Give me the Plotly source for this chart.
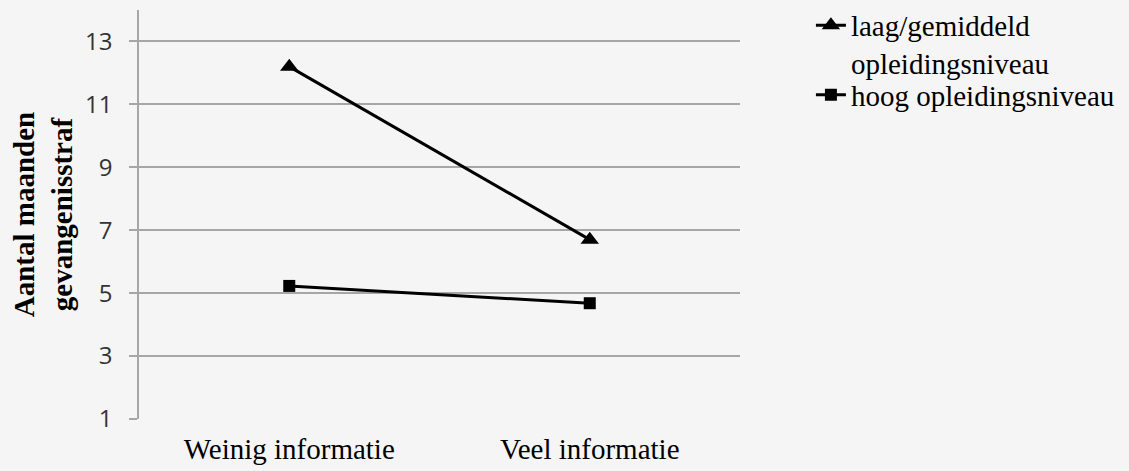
import plotly.graph_objects as go

categories = ["Weinig informatie", "Veel informatie"]
laag_gemiddeld = [12.2, 6.7]
hoog = [5.23, 4.68]
series_names = ["laag/gemiddeld<br>opleidingsniveau", "hoog opleidingsniveau"]
y_ticks = [1, 3, 5, 7, 9, 11, 13]

fig = go.Figure()
fig.add_trace(go.Scatter(
    x=categories, y=laag_gemiddeld, name=series_names[0], mode="lines+markers",
    line=dict(color="black", width=3),
    marker=dict(symbol="triangle-up", size=16, color="black"),
    legend="legend",
))
fig.add_trace(go.Scatter(
    x=categories, y=hoog, name=series_names[1], mode="lines+markers",
    line=dict(color="black", width=3),
    marker=dict(symbol="square", size=12, color="black"),
    legend="legend2",
))

grid = "#a6a6a6"
legend_font = dict(family="Liberation Serif", size=29, color="black")
fig.update_layout(
    width=1129, height=471,
    paper_bgcolor="#f5f5f5", plot_bgcolor="#f5f5f5",
    margin=dict(l=139, r=389, t=10, b=52, autoexpand=False),
    showlegend=True,
    legend=dict(
        x=1.118, y=1.025, xanchor="left", yanchor="top", valign="top",
        font=legend_font, bgcolor="rgba(0,0,0,0)", tracegroupgap=0,
    ),
    legend2=dict(
        x=1.118, y=0.855, xanchor="left", yanchor="top", valign="top",
        font=legend_font, bgcolor="rgba(0,0,0,0)", tracegroupgap=0,
    ),
    xaxis=dict(
        type="category", range=[-0.5, 1.5], automargin=False,
        showgrid=False, showline=False, zeroline=False,
        tickfont=dict(family="Liberation Serif", size=29, color="black"),
        ticks="", ticklabelstandoff=10,
    ),
    yaxis=dict(
        range=[1, 14], tickvals=y_ticks, automargin=False,
        showgrid=True, gridcolor=grid, gridwidth=1.5,
        showline=True, linecolor=grid, linewidth=1.5,
        ticks="outside", ticklen=8, tickcolor=grid, tickwidth=1.5,
        zeroline=False, ticklabelstandoff=12,
        tickfont=dict(family="Open Sans", size=24, color="#333333"),
        title=dict(text="<b>Aantal maanden<br>gevangenisstraf</b>",
                   font=dict(family="Liberation Serif", size=29, color="black"),
                   standoff=4),
    ),
)
fig.write_html("out.html", config={"displayModeBar": False},
               post_script="document.body.style.margin='0';")
